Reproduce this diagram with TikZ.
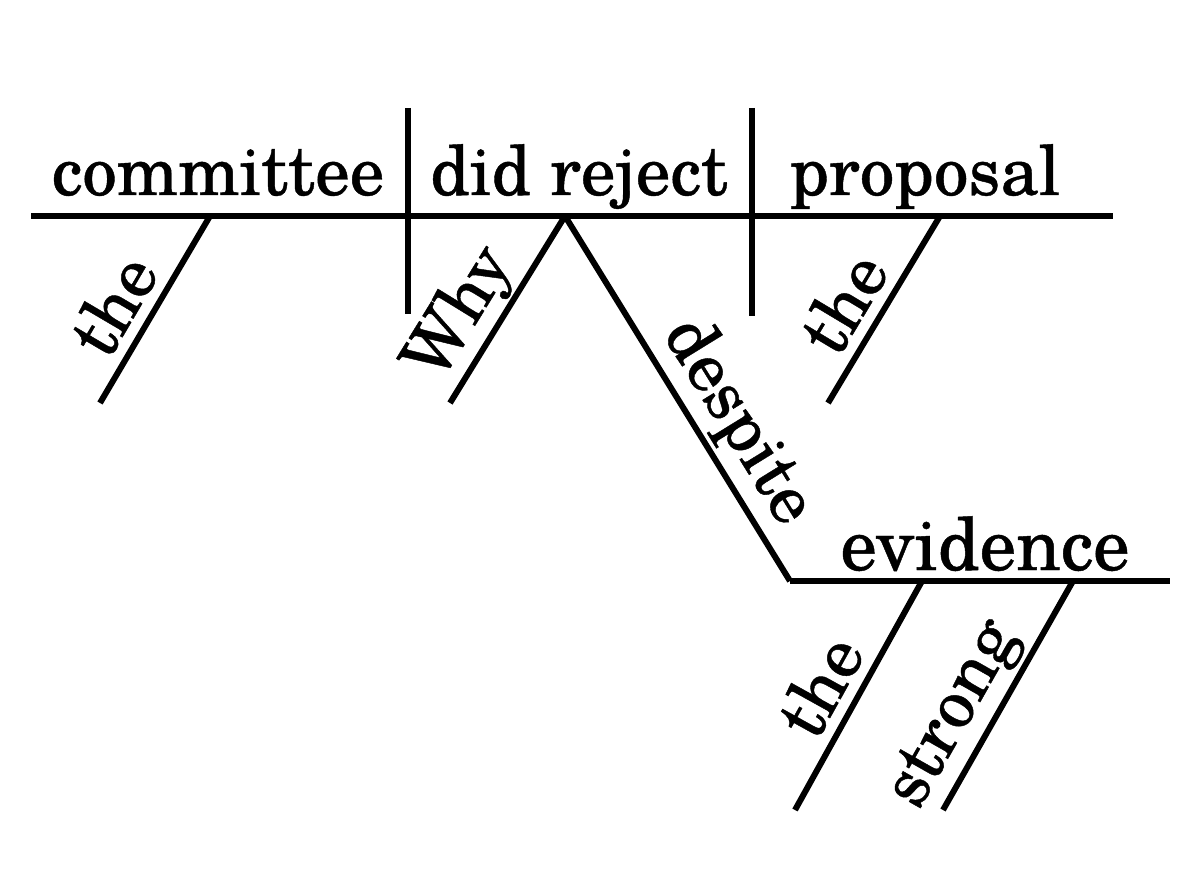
\documentclass[tikz,border=0pt]{standalone}
\usepackage{fontspec}
\setmainfont[RawFeature={embolden=0.6}]{texgyreschola-regular.otf}
\begin{document}
\begin{tikzpicture}[x=1pt,y=-1pt,
  rule/.style={line width=6pt, black},
  word/.style={font=\fontsize{69}{80}\selectfont, inner sep=0pt, anchor=base},
  slant/.style={font=\fontsize{69}{80}\selectfont, sloped, anchor=south, inner sep=#1},
  slant/.default=10pt]
\fill[white] (0,0) rectangle (1200,896);
\useasboundingbox (0,0) rectangle (1200,896);
% coordinates
\coordinate (mainL) at (31,216);
\coordinate (mainR) at (1113,216);
\coordinate (d1t) at (408,108);
\coordinate (d1b) at (408,314);
\coordinate (d2t) at (752,108);
\coordinate (d2b) at (752,316);
\coordinate (theA) at (210,216);
\coordinate (theAe) at (100,403);
\coordinate (verb) at (565,216);
\coordinate (whyE) at (450,403);
\coordinate (evL) at (790,581);
\coordinate (evR) at (1170,581);
\coordinate (theB) at (940,216);
\coordinate (theBe) at (828,403);
\coordinate (theC) at (922,581);
\coordinate (theCe) at (795,810);
\coordinate (strS) at (1073,581);
\coordinate (strE) at (943,810);
% words on baselines
\node[word] (committee) at (218,195) {committee};
\node[word] (didreject) at (579,195) {did reject};
\node[word] (proposal) at (925,195) {proposal};
\node[word, font=\fontsize{73}{84}\selectfont] (evidence) at (985,570) {evidence};
% lines
\draw[rule] (mainL) -- (mainR);
\draw[rule] (d1t) -- (d1b);
\draw[rule] (d2t) -- (d2b);
\draw[rule] (evL) -- (evR);
\draw[rule] (theA) -- (theAe) node[slant, pos=0.58] (the1) {the};
\draw[rule] (verb) -- (whyE) node[slant=2pt, pos=0.63] (why) {Why};
\draw[rule] (verb) -- (evL) node[slant=4pt, pos=0.62] (despite) {despite};
\draw[rule] (theB) -- (theBe) node[slant, pos=0.57] (the2) {the};
\draw[rule] (theC) -- (theCe) node[slant, pos=0.54] (the3) {the};
\draw[rule] (strS) -- (strE) node[slant=4pt, pos=0.665] (strong) {strong};
\end{tikzpicture}
\end{document}
